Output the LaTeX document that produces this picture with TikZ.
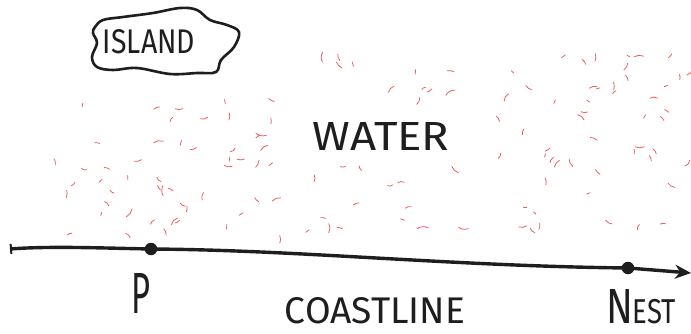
\documentclass[tikz,border=0pt]{standalone}
\usepackage{fontspec}
\setmainfont{Fira Sans}
\usepackage{graphicx}
\usetikzlibrary{arrows.meta}
\definecolor{pen}{RGB}{30,30,30}
\definecolor{waterred}{RGB}{240,85,85}
\tikzset{
  ink/.style={draw=pen, line width=3pt, line cap=round, line join=round},
  coast/.style={draw=pen, line width=3.4pt, {Bar[width=10pt,line width=2pt]}-{Stealth[length=16pt,width=14pt]}},
  dotnode/.style={circle, fill=pen, inner sep=0pt, minimum size=12.5pt},
  label/.style={text=pen, inner sep=0pt},
  ripple/.style={draw=waterred, line width=0.75pt, line cap=round}
}
\begin{document}
\begin{tikzpicture}[x=1pt,y=-1pt]
\useasboundingbox[fill=white] (0,0) rectangle (691,333);

% red ripples of water
\pgfmathsetseed{4242}
\foreach \i in {1,...,150}{
  \pgfmathsetmacro\rx{50+rnd*638}
  \pgfmathsetmacro\ry{56+rnd*186}
  \pgfmathsetmacro\ang{rnd*360}
  \pgfmathsetmacro\del{(rnd>0.5 ? 1 : -1)*(30+rnd*35)}
  \pgfmathsetmacro\rad{5+rnd*6}
  \pgfmathtruncatemacro\ok{((\rx>300)&&(\rx<462)&&(\ry>110)&&(\ry<162)) ? 0 : (((\rx<295)&&(\ry<98)) ? 0 : 1)}
  \ifnum\ok=1
    \draw[ripple] (\rx,\ry) arc[start angle=\ang, delta angle=\del, radius=\rad];
  \fi
}

% island
\draw[ink, line width=2.6pt] plot[smooth cycle, tension=0.6] coordinates {
  (95,27) (103,20) (123,17) (153,13) (180,8) (197,10) (210,20) (227,25) (239,32)
  (234,47) (221,60) (216,72) (197,73) (170,74) (137,68) (113,70) (97,67) (92,57) (97,43) (93,33)};
\node[label] (island) at (149,42) {\resizebox{92pt}{24pt}{ISLAND}};

\node[label] (water) at (381,136) {\resizebox{137pt}{28pt}{WATER}};

% coastline
\coordinate (start) at (10,249);
\coordinate (end) at (691,273);
\node[dotnode] (P) at (151,249) {};
\node[dotnode] (Nest) at (628,268) {};
\draw[coast] (start) .. controls (50,246) and (100,248) .. (P.center)
  .. controls (300,250) and (450,266) .. (Nest.center) -- (end);

\node[label] (plab) at (141,293) {\resizebox{19pt}{40pt}{P}};
\node[label] (coastlab) at (375,311) {\resizebox{180pt}{26pt}{COASTLINE}};
\node[label] (nestlab) at (641,307) {\resizebox{70pt}{34pt}{\fontsize{40}{40}\selectfont N\fontsize{28}{28}\selectfont EST}};
\end{tikzpicture}
\end{document}
